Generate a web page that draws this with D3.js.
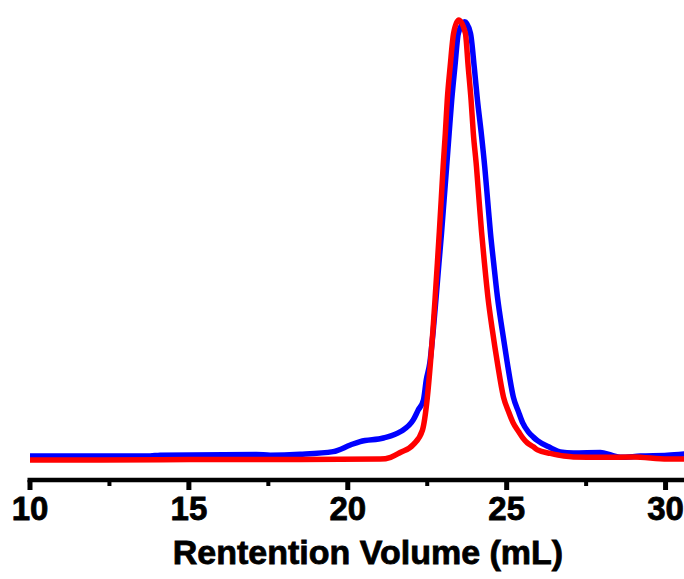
<!DOCTYPE html>
<html>
<head>
<meta charset="utf-8">
<script src="https://cdn.jsdelivr.net/npm/d3@7"></script>
<style>
  html, body { margin: 0; padding: 0; background: #fff; }
  svg { display: block; }
</style>
</head>
<body>
<div id="graph"></div>
<script>
// Retention volume (mL) and normalized detector signal
var blueVolume = [10.0, 13.78, 14.09, 17.12, 17.56, 18.5, 19.54, 20.08, 20.39, 21.12, 21.65, 22.06, 22.22, 22.38, 22.47,
    22.58, 22.69, 22.78, 22.87, 22.95, 23.03, 23.11, 23.19, 23.27, 23.37, 23.48, 23.68,
    23.86, 23.98, 24.08, 24.2, 24.31, 24.4, 24.49, 24.59, 24.71, 24.86, 25.02, 25.21, 25.37, 25.5,
    25.68, 25.84, 25.97, 26.38, 26.69, 27.1, 27.95, 28.3, 28.58, 29.21, 30.06, 30.6];
var blueSignal = [0.009, 0.009, 0.011, 0.0125, 0.011, 0.013, 0.019, 0.034, 0.042, 0.05, 0.064, 0.091, 0.114, 0.136, 0.182,
    0.22, 0.295, 0.37, 0.448, 0.516, 0.591, 0.666, 0.743, 0.818, 0.893, 0.97, 0.996,
    0.97, 0.893, 0.818, 0.743, 0.666, 0.591, 0.516, 0.448, 0.37, 0.295, 0.22, 0.143, 0.11, 0.085,
    0.064, 0.052, 0.044, 0.028, 0.018, 0.016, 0.017, 0.011, 0.006, 0.009, 0.011, 0.014];

var redVolume = [10.0, 12.2, 15.35, 18.5, 21.02, 21.35, 21.65, 22.06, 22.35, 22.5, 22.6, 22.68, 22.75, 22.82, 22.88,
    22.94, 23.0, 23.07, 23.13, 23.22, 23.33, 23.49,
    23.7, 23.79, 23.88, 23.95, 24.05, 24.13, 24.21, 24.3, 24.41, 24.55, 24.71, 24.9, 25.06, 25.2,
    25.38, 25.5, 25.65, 25.84, 25.97, 26.38, 26.8, 27.1, 27.95, 28.99, 30.06, 30.6];
var redSignal = [0.0, 0.0, 0.001, 0.001, 0.002, 0.006, 0.017, 0.035, 0.068, 0.14, 0.22, 0.295, 0.37, 0.448, 0.518,
    0.591, 0.666, 0.743, 0.818, 0.893, 0.97, 1.0,
    0.97, 0.893, 0.818, 0.743, 0.666, 0.591, 0.518, 0.448, 0.37, 0.295, 0.22, 0.143, 0.11, 0.085,
    0.064, 0.051, 0.039, 0.03, 0.023, 0.015, 0.009, 0.007, 0.006, 0.007, 0.002, 0.002];

var majorTicks = [10, 15, 20, 25, 30];
var minorTicks = [12.5, 17.5, 22.5, 27.5];
var xTitle = "Rentention Volume (mL)";

var width = 684,
    height = 579;

var x = d3.scaleLinear().domain([10, 30.58]).range([30, 684]);
var y = d3.scaleLinear().domain([0, 1]).range([460, 20]);

var svg = d3.select("#graph").append("svg")
    .attr("width", width)
    .attr("height", height)
    .attr("viewBox", `0 0 ${width} ${height}`);

var line = d3.line()
    .x(function(d) { return x(d[0]); })
    .y(function(d) { return y(d[1]); })
    .curve(d3.curveMonotoneX);

// blue trace goes underneath, red is drawn on top
var series = [
    { color: "#0000ff", data: d3.zip(blueVolume, blueSignal) },
    { color: "#ff0000", data: d3.zip(redVolume, redSignal) }
];

svg.selectAll("path.trace")
    .data(series)
    .enter().append("path")
    .attr("class", "trace")
    .attr("d", function(d) { return line(d.data); })
    .attr("fill", "none")
    .attr("stroke", function(d) { return d.color; })
    .attr("stroke-width", 5.5)
    .attr("stroke-linejoin", "round");

// bottom axis: thick line, major and minor ticks pointing down
var axisY = 480;
var xAxis = svg.append("g").attr("transform", `translate(0,${axisY})`);

xAxis.append("line")
    .attr("x1", x(10) - 2.5)
    .attr("x2", width)
    .attr("stroke", "#000")
    .attr("stroke-width", 4.5);

xAxis.selectAll("line.major")
    .data(majorTicks)
    .enter().append("line")
    .attr("class", "major")
    .attr("x1", x).attr("x2", x)
    .attr("y1", 0).attr("y2", 10)
    .attr("stroke", "#000")
    .attr("stroke-width", 5);

xAxis.selectAll("line.minor")
    .data(minorTicks)
    .enter().append("line")
    .attr("class", "minor")
    .attr("x1", x).attr("x2", x)
    .attr("y1", 0).attr("y2", 6)
    .attr("stroke", "#000")
    .attr("stroke-width", 4);

// heavy bold labels, a thin stroke thickens them like the original
xAxis.selectAll("text.tick-label")
    .data(majorTicks)
    .enter().append("text")
    .attr("class", "tick-label")
    .attr("x", x)
    .attr("y", 40)
    .attr("text-anchor", "middle")
    .style("font-family", "Liberation Sans, Arial, sans-serif")
    .style("font-weight", "bold")
    .style("font-size", "33px")
    .style("stroke", "#000")
    .style("stroke-width", "0.8px")
    .text(function(d) { return d; });

svg.append("text")
    .attr("x", 368)
    .attr("y", 564)
    .attr("text-anchor", "middle")
    .style("font-family", "Liberation Sans, Arial, sans-serif")
    .style("font-weight", "bold")
    .style("font-size", "34px")
    .style("stroke", "#000")
    .style("stroke-width", "0.8px")
    .text(xTitle);
</script>
</body>
</html>
